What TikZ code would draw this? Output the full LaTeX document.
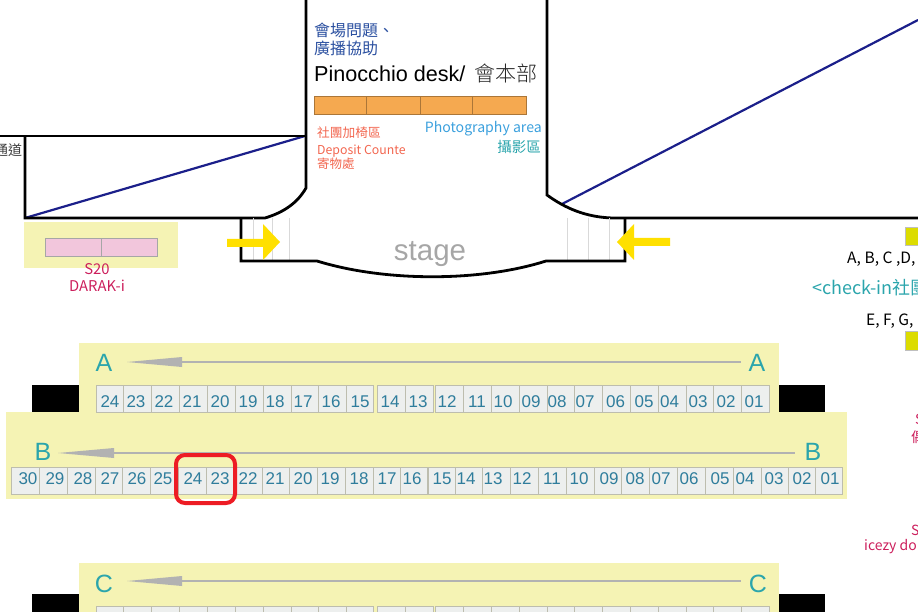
\documentclass[tikz,border=0pt]{standalone}
\usepackage{fontspec}
\setmainfont{Liberation Sans}
\newfontfamily\cjkfont{Noto Sans CJK TC}
\newfontfamily\cjklight{Noto Sans CJK TC Light}
\usetikzlibrary{calc,positioning}
\definecolor{bandyellow}{HTML}{F5F3B4}
\definecolor{seatfill}{HTML}{EDEFEE}
\definecolor{seatline}{HTML}{BDBDAE}
\definecolor{seatnum}{HTML}{2F7D9C}
\definecolor{rowteal}{HTML}{2BA5AC}
\definecolor{slopeblue}{HTML}{1B1F8A}
\definecolor{deskorange}{HTML}{F5A950}
\definecolor{rosered}{HTML}{CC1F5C}
\definecolor{salmon}{HTML}{F2664F}
\definecolor{helpblue}{HTML}{2B50A0}
\definecolor{photoblue}{HTML}{3BA0DD}
\definecolor{boothpink}{HTML}{F2C6DC}
\definecolor{markred}{HTML}{ED1C24}
\definecolor{arrowyellow}{HTML}{FFE000}
\definecolor{squareyellow}{HTML}{DCDC00}
\tikzset{
  seatbox/.style={draw=seatline, fill=seatfill, line width=1pt},
  seatlabel/.style={text=seatnum, font=\fontsize{17}{17}\selectfont, inner sep=0pt},
  rowlabel/.style={text=rowteal, font=\fontsize{25}{25}\selectfont, inner sep=0pt},
  wall/.style={draw=black, line width=2.8pt},
  slope/.style={draw=slopeblue, line width=2.2pt},
  stairline/.style={draw=black!15, line width=1pt},
  aisle/.style={draw=black!30, line width=1.4pt},
  aislehead/.style={fill=black!30},
  yellowarrow/.style={fill=arrowyellow},
  tag/.style={inner sep=0pt, anchor=west, align=left},
  band/.style={fill=bandyellow},
  blackblock/.style={fill=black},
  square/.style={fill=squareyellow, draw=black!25, line width=0.7pt},
  boothbox/.style={fill=boothpink, draw=black!35, line width=0.8pt},
  deskbox/.style={fill=deskorange, draw=black!30!deskorange, line width=0.8pt}
}
\newcommand{\cjksize}[1]{\cjkfont\fontsize{#1}{#1}\selectfont}
\begin{document}
\begin{tikzpicture}[x=1pt,y=-1pt]
  \useasboundingbox (0,0) rectangle (918,612);
  \clip (0,0) rectangle (918,612);

  % yellow bands and black blocks
  \fill[blackblock] (32,385) rectangle (825,417);
  \fill[blackblock] (32,594) rectangle (825,612);
  \fill[band] (79,343) rectangle (779,412);
  \fill[band] (6,412) rectangle (847,499);
  \fill[band] (79,563) rectangle (779,612);
  \fill[band] (24,222) rectangle (178,268);

  % room walls
  \draw[slope] (25,218) -- (305,136);
  \draw[slope] (562,204) -- (918,20);
  \draw[wall] (0,136) -- (306,136);
  \draw[wall] (25,136) -- (25,218) -- (265,218) .. controls (285,212) and (298,202) .. (306,188) -- (306,0);
  \draw[wall] (547,0) -- (547,195) .. controls (565,208) and (585,217) .. (612,218) -- (918,218);

  % stage front
  \foreach \x in {253,272,289,567,588,609}
    \draw[stairline] (\x,218) -- (\x,262);
  \draw[wall] (241,218) -- (241,261) -- (317,261) .. controls (385,282) and (480,282) .. (546,261) -- (625,261) -- (625,218);
  \node[inner sep=0pt, text=black!35, font=\fontsize{29.5}{29.5}\selectfont] (stage) at (430,254) {stage};
  \fill[yellowarrow] (227,239) -- (263,239) -- (263,224) -- (280,242) -- (263,260) -- (263,247) -- (227,247) -- cycle;
  \fill[yellowarrow] (670,238) -- (634,238) -- (634,224) -- (617,242) -- (634,260) -- (634,246) -- (670,246) -- cycle;

  % desk
  \node[tag, text=helpblue, font=\cjksize{16}] (help1) at (314,30) {會場問題、};
  \node[tag, text=helpblue, font=\cjksize{16}] (help2) at (314,48) {廣播協助};
  \node[tag, font=\fontsize{21.6}{21.6}\selectfont] (desk) at (314,74) {Pinocchio desk/};
  \node[tag, text=black!85, font=\cjklight\fontsize{21}{21}\selectfont] (deskcjk) at (474,74) {會本部};
  \foreach \xa/\xb in {314/366,366/420,420/472,472/526}
    \draw[deskbox] (\xa,96) rectangle (\xb,114);
  \node[tag, text=salmon, font=\cjksize{12.7}] (chairs) at (317,133) {社團加椅區};
  \node[tag, text=salmon, font=\cjksize{12.3}] (deposit) at (317,151) {Deposit Counte};
  \node[tag, text=salmon, font=\cjksize{12.5}] (depositcjk) at (317,164) {寄物處};
  \node[inner sep=0pt, anchor=east, text=photoblue, font=\cjksize{14.1}] (photo) at (542,128.5) {Photography area};
  \node[inner sep=0pt, anchor=east, text=rowteal, font=\cjksize{14.5}] (photocjk) at (541,147) {攝影區};

  % booth S20
  \draw[boothbox] (45,238) rectangle (101,256);
  \draw[boothbox] (101,238) rectangle (157,256);
  \node[inner sep=0pt, text=rosered, font=\cjksize{14.8}] (s20) at (97,269) {S20};
  \node[inner sep=0pt, text=rosered, font=\cjksize{14.8}] (darak) at (97,286) {DARAK-i};

  % right edge, cut by the page
  \fill[square] (905,227) rectangle (925,245);
  \fill[square] (905,331) rectangle (925,350);
  \node[tag, font=\cjksize{15.6}] (abcd) at (847,259) {A, B, C ,D,};
  \node[tag, text=rowteal, font=\cjksize{18}] (checkin) at (812,288) {<check-in社團};
  \node[tag, font=\cjksize{15.6}] (efg) at (866,321) {E, F, G,};
  \node[tag, text=rosered, font=\cjksize{14}] (s1) at (915,419) {S};
  \node[tag, text=rosered, font=\cjksize{14}] (s1b) at (911,437) {偶};
  \node[tag, text=rosered, font=\cjksize{14}] (s2) at (911,530) {S};
  \node[tag, text=rosered, font=\cjksize{14}] (icezy) at (864,547) {icezy do};
  \node[tag, text=black!75, font=\cjksize{14}] (passage) at (-6,150) {通道};

  % aisle arrows
  \foreach \y/\tipx/\basex/\endx in {362/127/182/741,453/58/114/795,581/127/182/741} {
    \draw[aisle] (\basex,\y) -- (\endx,\y);
    \fill[aislehead] (\tipx,\y) -- (\basex,\y-5) -- (\basex,\y+5) -- cycle;
  }
  \node[rowlabel] (rowA1) at (104,363) {A};
  \node[rowlabel] (rowA2) at (757,363) {A};
  \node[rowlabel] (rowB1) at (43,452) {B};
  \node[rowlabel] (rowB2) at (813,452) {B};
  \node[rowlabel] (rowC1) at (104,584) {C};
  \node[rowlabel] (rowC2) at (758,584) {C};

  % seats
  \foreach \lab/\xa/\xb/\xt in {24/96/123/110,23/123/151/136,22/151/179/164,21/179/207/192,20/207/235/220,19/235/263/248,18/263/291/275,17/291/318/303,16/318/346/331,15/346/373.5/360,14/377.5/405/390,13/405/433/418,12/435/463/447,11/463/491/477,10/491/519/503,09/519/547/531,08/547/574/557,07/574/602/585,06/602.5/630/615.5,05/630/658/644,04/658/686/669.5,03/686/713/698,02/713/741/726,01/741/769/754} {
    \draw[seatbox] (\xa,385) rectangle (\xb,412);
    \node[seatlabel] (a\lab) at (\xt,401.5) {\lab};
  }
  \foreach \lab/\xa/\xb/\xt in {30/11.5/39/28,29/39/67/55,28/67/95/83,27/95/122/110,26/122/150/137,25/150/178/163,24/178/206/193,23/206/234/220,22/234/262/248,21/262/289/275,20/289/317/303,19/317/345/330,18/345/373/359,17/373/400/387,16/400/427/412,15/428/455/442,14/455/482.5/466,13/482.5/510/493,12/510/538/522,11/538/566/552,10/566/594/579,09/594/621/609,08/621/649/635,07/649/677/661,06/677/705/689,05/705/733/720,04/733/761/745,03/761/788/774,02/788/815/802,01/815/842/830} {
    \draw[seatbox] (\xa,467) rectangle (\xb,494.5);
    \node[seatlabel] (b\lab) at (\xt,479) {\lab};
  }
  \foreach \xa/\xb in {96/123,123/151,151/179,179/207,207/235,235/263,263/291,291/318,318/346,346/373.5,377.5/405,405/433,435/463,463/491,491/519,519/547,547/574,574/602,602.5/630,630/658,658/686,686/713,713/741,741/769}
    \draw[seatbox] (\xa,606) rectangle (\xb,625);

  % marked seats
  \draw[draw=markred, line width=4pt, rounded corners=9pt] (176,455) rectangle (235,503);
\end{tikzpicture}
\end{document}
